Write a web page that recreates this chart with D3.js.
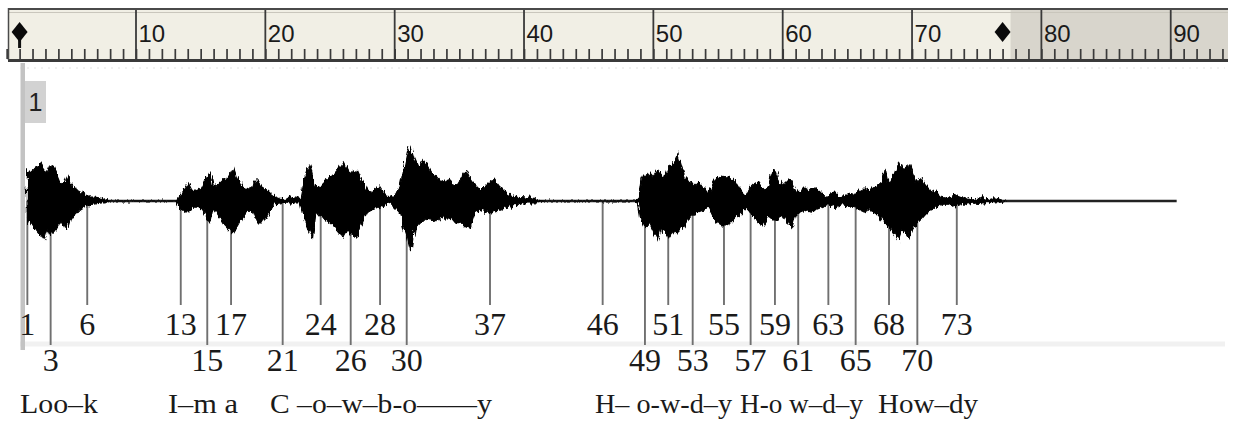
<!DOCTYPE html>
<html><head><meta charset="utf-8">
<script src="https://cdn.jsdelivr.net/npm/d3@7"></script>
<style>body{margin:0;background:#fff;} svg{display:block}</style>
</head><body>
<svg id="c" width="1233" height="421"></svg>
<script>
// ---------- DATA ----------
const rulerMajor  = [10, 20, 30, 40, 50, 60, 70, 80, 90];
const rulerLabels = ["10", "20", "30", "40", "50", "60", "70", "80", "90"];
const selection   = [1, 77];
const channelLabel = "1";

const markerIds = [1, 3, 6, 13, 15, 17, 21, 24, 26, 28, 30, 37, 46, 49, 51, 53, 55, 57, 59, 61, 63, 65, 68, 70, 73];
const markerPos = [1.60, 3.40, 6.23, 13.46, 15.51, 17.35, 21.34, 24.28, 26.60, 28.87, 30.93, 37.37,
                   46.08, 49.35, 51.15, 53.04, 55.46, 57.52, 59.40, 61.20, 63.53, 65.64, 68.22, 70.41, 73.46];
const markerRow = [0, 1, 0, 0, 1, 0, 1, 0, 1, 0, 1, 0, 0, 1, 0, 1, 0, 1, 0, 1, 0, 1, 0, 1, 0];

const lyricText  = ["Loo\u2013k", "I\u2013m a", "C \u2013o\u2013w\u2013b-o", "\u2014\u2014y",
                    "H\u2013 o-w-d\u2013y", "H-o w\u2013d\u2013y", "How\u2013dy"];
const lyricStart = [1.03, 12.47, 20.36, 31.73, 45.49, 56.70, 67.37];
const lyricEnd   = [7.06, 17.89, 31.73, 37.52, 56.08, 66.21, 75.10];

const waveSpan = [1.57, 90.46];
const waveT = [
 1.60,1.80,2.06,2.32,2.65,2.91,3.17,3.43,3.68,3.95,4.20,4.46,4.72,4.90,5.15,5.54,5.93,6.31,6.83,7.22,7.60,7.90,
 13.10,13.27,13.53,13.79,14.04,14.31,14.69,15.08,15.47,15.72,15.98,16.36,16.75,17.14,17.52,17.79,18.17,18.56,18.95,
 19.33,19.72,20.11,20.36,20.75,21.13,21.52,21.91,22.29,22.68,
 22.93,23.24,23.45,23.66,23.92,24.23,24.61,25.00,25.39,25.77,26.03,26.34,26.68,27.11,27.45,27.84,28.22,28.61,28.87,
 29.25,29.64,30.03,30.41,30.67,30.98,31.24,31.49,31.83,32.21,32.48,32.86,33.25,33.64,34.02,34.41,34.79,35.18,35.51,
 35.82,36.21,36.60,36.98,37.37,37.68,38.14,38.53,38.92,39.43,40.08,40.46,40.85,41.10,41.40,
 48.60,48.84,49.04,49.22,49.49,49.74,50.00,50.34,50.64,50.90,51.21,51.54,51.88,52.19,52.45,52.70,53.09,53.48,53.86,
 54.25,54.64,54.90,55.28,55.67,56.06,56.44,56.83,57.09,57.34,57.73,58.11,58.50,58.89,59.17,59.41,59.66,60.05,60.43,
 60.69,60.95,61.34,61.72,62.11,62.50,62.88,63.27,63.66,64.04,64.43,64.82,65.20,65.59,65.98,66.31,66.62,67.00,67.39,
 67.70,67.91,68.16,68.47,68.74,68.99,69.25,69.53,69.76,70.02,70.36,70.67,71.00,71.39,71.78,72.16,72.55,72.94,73.45,
 73.84,74.35,74.87,75.51,75.90,76.41,76.93,77.20];
const waveTop = [
 31,28,31,34,38,33,28,36,34,26,18,19,26,18,14,11,8,4,4,3,2,0,
 0,4,9,13,18,11,9,13,23,29,14,16,21,24,33,23,14,11,14,
 21,14,11,8,4,2,1,4,4,2,
 18,29,36,24,13,14,19,23,28,34,39,31,28,31,21,11,9,13,14,
 6,4,6,14,29,48,55,44,34,41,36,28,24,18,21,18,16,24,31,
 23,16,11,14,19,22,14,9,6,4,3,4,2,1,0,
 0,3,21,26,24,28,24,31,26,23,34,38,48,34,24,21,14,19,13,
 6,18,23,25,24,23,18,9,6,11,16,19,11,13,29,31,21,14,21,
 19,11,9,14,11,13,9,4,6,9,4,6,6,8,11,13,11,13,16,
 18,32,18,24,34,38,31,34,36,28,18,22,16,11,9,4,3,4,6,
 4,2,1,3,1,3,1,0];
const waveBot = [
 16,22,27,29,34,39,29,34,31,26,19,26,27,19,14,11,7,4,3,2,2,0,
 0,4,9,11,11,7,6,7,16,21,7,14,22,27,32,26,17,11,9,
 22,22,14,9,3,2,1,2,2,2,
 16,26,32,37,11,16,19,22,26,32,36,29,34,36,22,12,9,6,7,
 4,2,6,12,26,37,51,29,24,19,16,19,21,14,19,16,22,21,26,
 27,12,9,11,12,11,9,7,6,4,2,2,2,1,0,
 0,3,19,24,26,22,29,39,27,29,37,31,32,29,24,19,14,11,9,
 6,16,21,24,24,21,16,11,6,9,16,22,24,16,19,19,17,14,22,
 27,16,11,9,11,9,7,4,4,7,4,4,6,7,9,11,9,11,14,
 19,22,24,29,34,39,29,32,37,29,22,19,14,9,7,4,3,4,6,
 4,2,1,2,1,2,1,0];

// ---------- LAYOUT ----------
const svg = d3.select("#c");
const x = d3.scaleLinear().domain([0, 90]).range([6.66, 1170.72]);
const baseY = 201;
const y = d3.scaleLinear().domain([-60, 60]).range([baseY + 60, baseY - 60]);

// rough-edge filter for the waveform fill (visual texture only)
const defs = svg.append("defs");
const f = defs.append("filter").attr("id", "rough").attr("x", "-2%").attr("y", "-30%")
  .attr("width", "104%").attr("height", "160%");
f.append("feTurbulence").attr("type", "fractalNoise").attr("baseFrequency", "0.45 0.08")
  .attr("numOctaves", 2).attr("seed", 3).attr("result", "n");
f.append("feDisplacementMap").attr("in", "SourceGraphic").attr("in2", "n").attr("scale", 7)
  .attr("xChannelSelector", "R").attr("yChannelSelector", "G");

// ---------- RULER ----------
const rulerL = 8, rulerR = 1228, rulerT = 8, rulerB = 60;
const ruler = svg.append("g");
ruler.append("rect").attr("x", rulerL).attr("y", rulerT).attr("width", rulerR - rulerL).attr("height", rulerB - rulerT)
  .attr("fill", "#f1efe5");
ruler.append("rect").attr("x", x(selection[1]) + 8).attr("y", rulerT).attr("width", rulerR - x(selection[1]) - 8)
  .attr("height", rulerB - rulerT).attr("fill", "#d8d5cc");
ruler.append("line").attr("x1", rulerL).attr("x2", rulerR).attr("y1", 12.5).attr("y2", 12.5)
  .attr("stroke", "#c9c6bc").attr("stroke-width", 1);

const minorAxis = d3.axisTop(x).tickValues(x.ticks(90).concat([91, 92, 93, 94])).tickSize(10).tickFormat("");
const ax = ruler.append("g").attr("transform", `translate(0,${rulerB - 1})`).call(minorAxis);
ax.select(".domain").remove();
ax.selectAll(".tick line").attr("stroke", "#3a3a3a").attr("stroke-width", 1.7);

ruler.selectAll(".major").data(rulerMajor).join("line").attr("class", "major")
  .attr("x1", d => x(d)).attr("x2", d => x(d)).attr("y1", rulerT).attr("y2", rulerB)
  .attr("stroke", "#3a3a3a").attr("stroke-width", 1.8);
ruler.selectAll(".mlabel").data(rulerMajor).join("text").attr("class", "mlabel")
  .attr("x", d => x(d) + 2.5).attr("y", 42)
  .attr("font-family", "Liberation Sans, Arial, sans-serif").attr("font-size", 24).attr("fill", "#1a1a1a")
  .text((d, i) => rulerLabels[i]);

ruler.append("line").attr("x1", rulerL).attr("x2", rulerR).attr("y1", rulerT + 1).attr("y2", rulerT + 1)
  .attr("stroke", "#4a4a4a").attr("stroke-width", 2.2);
ruler.append("line").attr("x1", rulerL).attr("x2", rulerR).attr("y1", rulerB + 0.5).attr("y2", rulerB + 0.5)
  .attr("stroke", "#3a3a3a").attr("stroke-width", 3);
ruler.append("line").attr("x1", rulerL + 0.5).attr("x2", rulerL + 0.5).attr("y1", rulerT).attr("y2", rulerB)
  .attr("stroke", "#4a4a4a").attr("stroke-width", 1.5);

// selection diamonds
const dia = "M0,-10 L8,0 L0,10 L-8,0 Z";
selection.forEach((s, i) => {
  const g = ruler.append("g").attr("transform", `translate(${x(s)},32)`);
  if (i === 0) g.append("rect").attr("x", -1.5).attr("y", 4).attr("width", 3).attr("height", 12).attr("fill", "#111");
  g.append("path").attr("d", dia).attr("fill", "#0a0a0a");
});

// faint dotted line under ruler
svg.append("line").attr("x1", 20).attr("x2", 1225).attr("y1", 68).attr("y2", 68)
  .attr("stroke", "#e2e2e2").attr("stroke-width", 1).attr("stroke-dasharray", "2,5");

// faint band near lower labels
svg.append("line").attr("x1", 20).attr("x2", 1225).attr("y1", 344).attr("y2", 344)
  .attr("stroke", "#f1f1f1").attr("stroke-width", 5);

// left gray channel bar + label
svg.append("rect").attr("x", 20.5).attr("y", 63).attr("width", 4.5).attr("height", 287).attr("fill", "#c3c3c3");
svg.append("rect").attr("x", 25).attr("y", 81).attr("width", 21).attr("height", 42).attr("fill", "#d2d2d2");
svg.append("text").attr("x", 35.5).attr("y", 111).attr("text-anchor", "middle")
  .attr("font-family", "Liberation Sans, Arial, sans-serif").attr("font-size", 25).attr("fill", "#222")
  .text(channelLabel);

// ---------- MARKERS ----------
const markers = markerIds.map((id, i) => ({ id, t: markerPos[i], row: markerRow[i] }));
svg.selectAll(".mline").data(markers).join("line").attr("class", "mline")
  .attr("x1", d => x(d.t)).attr("x2", d => x(d.t))
  .attr("y1", baseY).attr("y2", d => d.row ? 345 : 305)
  .attr("stroke", "#707070").attr("stroke-width", 1.9);
svg.selectAll(".mtext").data(markers).join("text").attr("class", "mtext")
  .attr("x", d => x(d.t)).attr("y", d => d.row ? 371 : 335).attr("text-anchor", "middle")
  .attr("font-family", "Liberation Serif, Times New Roman, serif").attr("font-size", 32).attr("fill", "#1a1a1a")
  .text(d => d.id);

// ---------- WAVEFORM ----------
svg.append("line").attr("x1", x(waveSpan[0])).attr("x2", x(waveSpan[1])).attr("y1", baseY).attr("y2", baseY)
  .attr("stroke", "#222").attr("stroke-width", 2.6);
const wave = waveT.map((t, i) => ({ t, a: waveTop[i], b: waveBot[i] }));
const area = d3.area().x(d => x(d.t)).y0(d => y(-d.b)).y1(d => y(d.a)).curve(d3.curveLinear);
svg.append("path").datum(wave).attr("d", area).attr("fill", "#000").attr("stroke", "#000")
  .attr("stroke-width", 1.2).attr("stroke-linejoin", "miter").attr("filter", "url(#rough)");

// ---------- LYRICS ----------
lyricText.forEach((s, i) => {
  svg.append("text").attr("x", x(lyricStart[i])).attr("y", 413)
    .attr("font-family", "Liberation Serif, Times New Roman, serif").attr("font-size", 27).attr("fill", "#1a1a1a")
    .attr("textLength", x(lyricEnd[i]) - x(lyricStart[i])).attr("lengthAdjust", "spacingAndGlyphs")
    .text(s);
});
</script>
</body></html>
